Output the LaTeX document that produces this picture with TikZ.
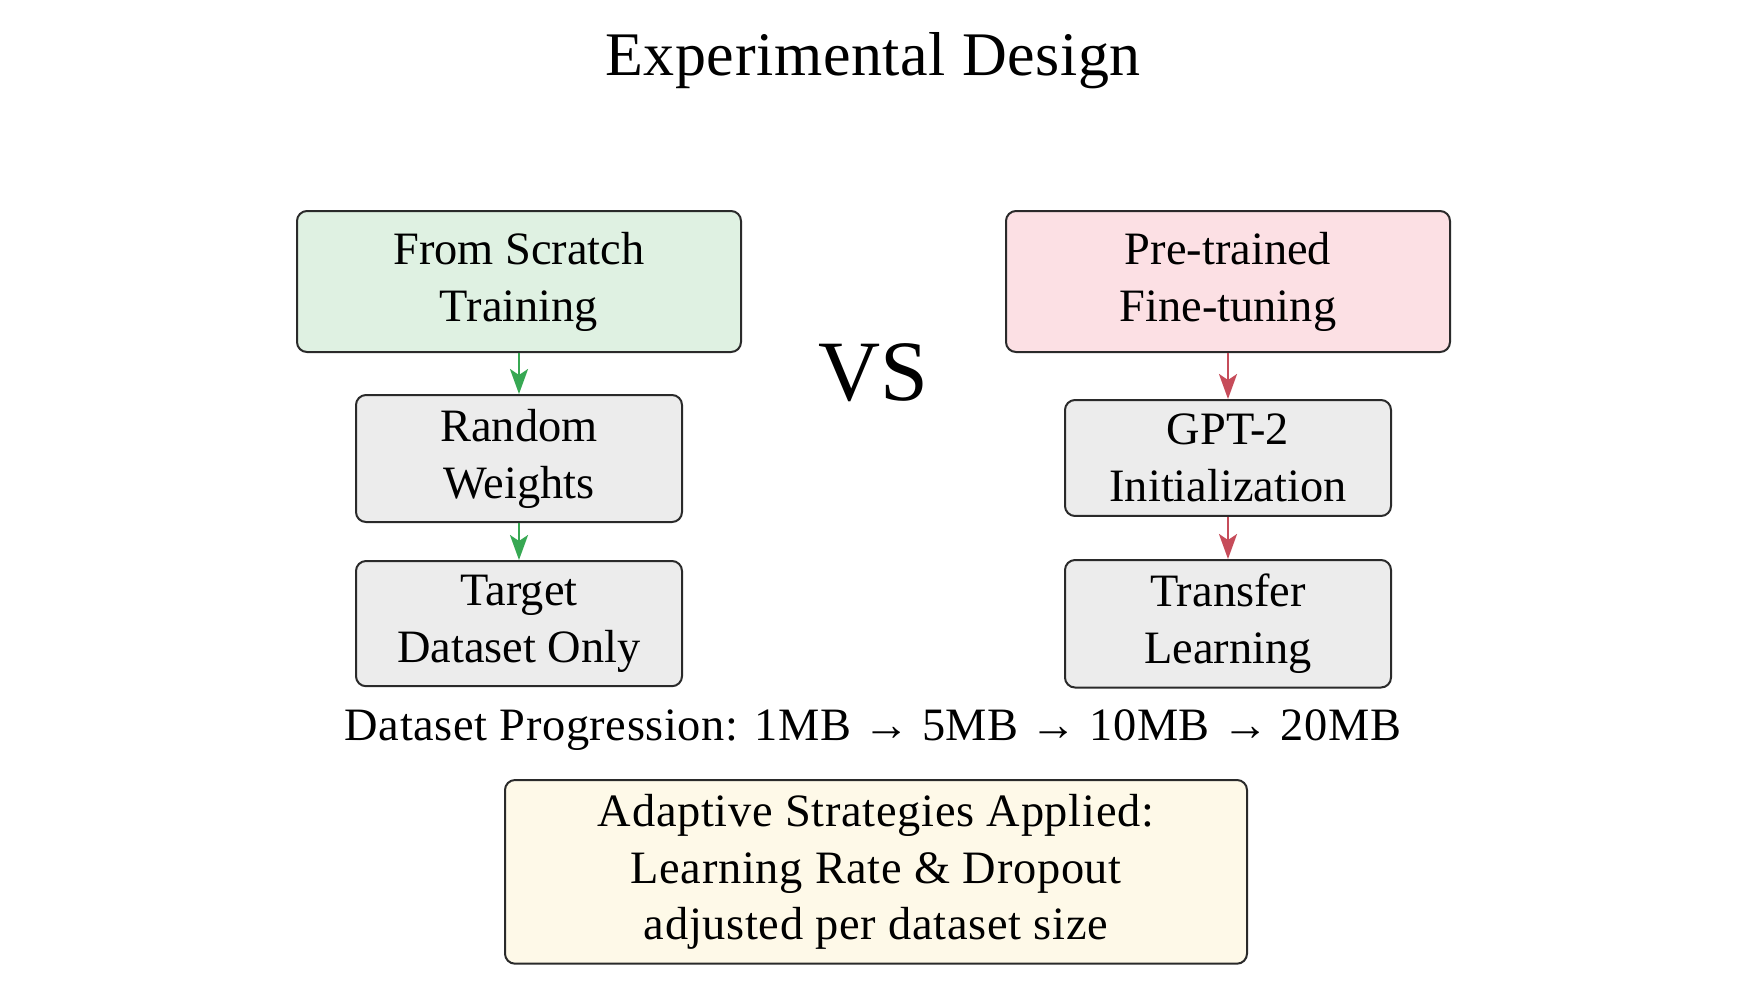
\documentclass[tikz,border=0pt]{standalone}
\usepackage{fontspec}
\setmainfont{Liberation Serif}
\usetikzlibrary{arrows.meta}
\definecolor{gfill}{HTML}{DFF1E2}
\definecolor{pfill}{HTML}{FCE0E4}
\definecolor{grayfill}{HTML}{ECECEC}
\definecolor{yfill}{HTML}{FEF9E8}
\definecolor{edge}{HTML}{2A2A2A}
\definecolor{garr}{HTML}{37A853}
\definecolor{rarr}{HTML}{C64C5A}
\tikzset{
  box/.style={draw=edge, line width=1pt, rounded corners=5pt, align=center,
    font={\fontsize{23.2}{28.4}\selectfont}, inner xsep=4pt, inner ysep=7pt},
  topbox/.style={box, minimum width=222pt, inner ysep=10.5pt},
  subbox/.style={box, fill=grayfill, minimum width=163pt},
  garrow/.style={draw=garr, line width=1.3pt, -{Stealth[length=12.5pt,width=9pt,inset=3pt]}},
  rarrow/.style={draw=rarr, line width=1.3pt, -{Stealth[length=12.5pt,width=9pt,inset=3pt]}},
  plain/.style={inner sep=0pt}
}
\begin{document}
\begin{tikzpicture}[x=0.5pt,y=-0.5pt]
\useasboundingbox (0,0) rectangle (1751,982);
\node[plain, anchor=base, font={\fontsize{31}{37}\selectfont\addfontfeature{LetterSpace=1}}] (title) at (873,75) {Experimental Design};

\node[topbox, fill=gfill, anchor=north] (scratch) at (519,210) {From Scratch\\Training};
\node[subbox, anchor=north] (random) at (519,394) {Random\\Weights};
\node[subbox, anchor=north] (target) at (519,560) {Target\\Dataset Only};

\node[topbox, fill=pfill, anchor=north] (pre) at (1228,210) {Pre-trained\\Fine-tuning};
\node[subbox, anchor=north] (gpt) at (1228,399) {GPT-2\\Initialization};
\node[subbox, anchor=north] (transfer) at (1228,559) {Transfer\\Learning};

\node[plain, anchor=base, font={\fontsize{43}{50}\selectfont}] (vs) at (873,400) {VS};

\node[plain, anchor=base, font={\fontsize{23.2}{28.4}\selectfont\addfontfeature{LetterSpace=1.3}}] (prog) at (873,740) {Dataset Progression: 1MB → 5MB → 10MB → 20MB};

\node[box, fill=yfill, minimum width=371pt, anchor=north, font={\fontsize{23.2}{28.4}\selectfont\addfontfeature{LetterSpace=1.5}}] (adapt) at (876,779) {Adaptive Strategies Applied:\\Learning Rate \& Dropout\\adjusted per dataset size};

\draw[garrow] (scratch.south) -- (random.north);
\draw[garrow] (random.south) -- (target.north);
\draw[rarrow] (pre.south) -- (gpt.north);
\draw[rarrow] (gpt.south) -- (transfer.north);
\end{tikzpicture}
\end{document}
